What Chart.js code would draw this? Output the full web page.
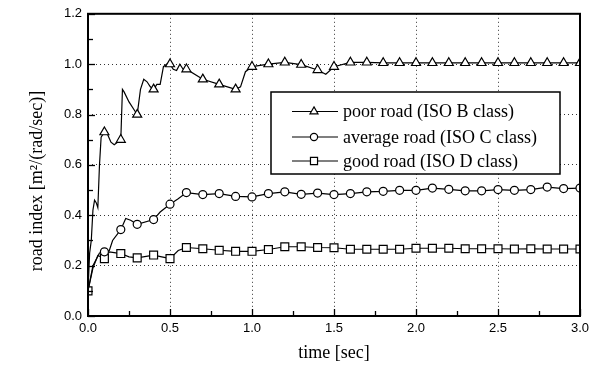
<!DOCTYPE html>
<html><head><meta charset="utf-8">
<script src="https://cdn.jsdelivr.net/npm/chart.js@4/dist/chart.umd.min.js"></script>
<style>html,body{margin:0;padding:0;background:#fff}#wrap{width:595px;height:365px}</style>
</head><body><div id="wrap"><canvas id="c" width="595" height="365"></canvas></div>
<script>
const seriesNames = ['poor road (ISO B class)', 'average road (ISO C class)', 'good road (ISO D class)'];
const xTickLabels = ['0.0','0.5','1.0','1.5','2.0','2.5','3.0'];
const yTickLabels = ['0.0','0.2','0.4','0.6','0.8','1.0','1.2'];
const xTitle = 'time [sec]';
const yTitle = 'road index [m\u00B2/(rad/sec)]';

const poorT = [0,0.01,0.02,0.03,0.04,0.05,0.06,0.07,0.08,0.09,0.1,0.12,0.14,0.16,0.18,0.2,0.21,0.22,0.25,0.28,0.3,0.32,0.34,0.36,0.38,0.4,0.42,0.44,0.46,0.48,0.5,0.52,0.54,0.56,0.58,0.6,0.7,0.8,0.9,0.93,0.96,1.0,1.1,1.2,1.3,1.4,1.45,1.5,1.6,1.7,1.8,1.9,2.0,2.1,2.2,2.3,2.4,2.5,2.6,2.7,2.8,2.9,3.0];
const poorV = [0.10,0.25,0.30,0.42,0.46,0.45,0.43,0.60,0.71,0.72,0.73,0.72,0.69,0.68,0.69,0.70,0.90,0.89,0.85,0.82,0.80,0.90,0.94,0.93,0.91,0.90,0.92,0.92,0.99,1.00,1.00,0.98,0.975,1.00,0.98,0.98,0.94,0.92,0.90,0.91,0.97,0.99,1.00,1.007,0.998,0.977,0.96,0.99,1.007,1.007,1.005,1.005,1.005,1.005,1.005,1.005,1.005,1.005,1.005,1.005,1.005,1.005,1.005];

const avgT = [0,0.03,0.07,0.1,0.13,0.15,0.2,0.23,0.26,0.3,0.4,0.44,0.5,0.55,0.6,0.7,0.8,0.9,1.0,1.1,1.2,1.3,1.4,1.5,1.6,1.7,1.8,1.9,2.0,2.1,2.2,2.3,2.4,2.5,2.6,2.7,2.8,2.9,3.0];
const avgV = [0.10,0.20,0.25,0.255,0.26,0.30,0.343,0.387,0.38,0.364,0.383,0.413,0.444,0.466,0.49,0.482,0.486,0.475,0.473,0.486,0.493,0.483,0.488,0.482,0.486,0.493,0.495,0.499,0.499,0.508,0.503,0.497,0.497,0.502,0.499,0.502,0.512,0.506,0.508];

const goodT = [0,0.03,0.06,0.1,0.13,0.2,0.25,0.3,0.4,0.45,0.5,0.55,0.6,0.7,0.8,0.9,1.0,1.1,1.2,1.3,1.4,1.5,1.6,1.7,1.8,1.9,2.0,2.1,2.2,2.3,2.4,2.5,2.6,2.7,2.8,2.9,3.0];
const goodV = [0.10,0.19,0.24,0.228,0.255,0.248,0.235,0.231,0.242,0.235,0.228,0.26,0.272,0.267,0.261,0.257,0.257,0.264,0.275,0.275,0.272,0.271,0.265,0.265,0.265,0.265,0.269,0.269,0.269,0.267,0.267,0.267,0.266,0.267,0.266,0.266,0.266];

const shapes = ['triangle','circle','rect'];
const radii = [5.2, 4, 5.6];
const legendRadii = [4.6, 3.6, 5];
const startMarker = [false, false, true];

function pts(T, V){ return T.map((t,i)=>({x:t,y:V[i]})); }
function isMarker(x, withStart){
  const k = x*10; const r = Math.round(k);
  if (Math.abs(k-r) > 1e-6) return false;
  if (r === 0 && !withStart) return false;
  return true;
}
const allData = [pts(poorT,poorV), pts(avgT,avgV), pts(goodT,goodV)];

const datasets = allData.map((d,i)=>({
  label: seriesNames[i],
  data: d,
  borderColor: '#000',
  borderWidth: 1.2,
  backgroundColor: '#fff',
  pointStyle: shapes[i],
  pointBorderColor: '#000',
  pointBackgroundColor: '#fff',
  pointBorderWidth: 1.2,
  pointRadius: ctx => (ctx.raw && isMarker(ctx.raw.x, startMarker[i])) ? radii[i] : 0,
  pointHoverRadius: 0,
  tension: 0,
  fill: false
}));

const SANS = '"Liberation Sans", Arial, sans-serif';
const SERIF = '"Liberation Serif", "Times New Roman", serif';

const overlay = {
  id: 'overlay',
  afterDraw(chart){
    const ctx = chart.ctx;
    const a = chart.chartArea;
    const xs = chart.scales.x, ys = chart.scales.y;
    ctx.save();
    ctx.strokeStyle = '#000';
    ctx.lineWidth = 1.3;
    for (let i=0;i<=12;i++){
      const v = i*0.25; const px = Math.round(xs.getPixelForValue(v))+0.5;
      const len = (i%2===0) ? 7 : 5;
      ctx.beginPath(); ctx.moveTo(px, a.bottom); ctx.lineTo(px, a.bottom-len); ctx.stroke();
    }
    for (let i=0;i<=12;i++){
      const v = i*0.1; const py = Math.round(ys.getPixelForValue(v))+0.5;
      const len = (i%2===0) ? 7 : 5;
      ctx.beginPath(); ctx.moveTo(a.left, py); ctx.lineTo(a.left+len, py); ctx.stroke();
    }
    ctx.lineWidth = 2;
    ctx.strokeRect(a.left, a.top, a.right-a.left, a.bottom-a.top);
    // legend box
    const bx = 271, by = 92, bw = 289, bh = 82;
    ctx.fillStyle = '#fff';
    ctx.fillRect(bx, by, bw, bh);
    ctx.lineWidth = 1.5;
    ctx.strokeRect(bx, by, bw, bh);
    const rows = [111.5, 137, 161];
    ctx.textBaseline = 'middle';
    ctx.textAlign = 'left';
    rows.forEach((ry,i)=>{
      ctx.strokeStyle = '#000'; ctx.lineWidth = 1.2;
      ctx.beginPath(); ctx.moveTo(292, ry); ctx.lineTo(338, ry); ctx.stroke();
      ctx.fillStyle = '#fff';
      Chart.helpers.drawPoint(ctx, {pointStyle: shapes[i], radius: legendRadii[i], rotation: 0, borderWidth: 1.2}, 314, ry);
      ctx.fillStyle = '#000';
      ctx.font = '18px ' + SERIF;
      ctx.fillText(seriesNames[i], 343, ry+1);
    });
    // axis titles
    ctx.fillStyle = '#000';
    ctx.font = '18px ' + SERIF;
    ctx.textAlign = 'center';
    ctx.textBaseline = 'middle';
    ctx.fillText(xTitle, (a.left+a.right)/2, 353);
    ctx.save();
    ctx.translate(37, 181);
    ctx.rotate(-Math.PI/2);
    ctx.fillText(yTitle, 0, 0);
    ctx.restore();
    ctx.restore();
  }
};

new Chart(document.getElementById('c'), {
  type: 'line',
  data: { datasets },
  options: {
    responsive: false,
    animation: false,
    devicePixelRatio: 1,
    layout: { padding: { top: 13, right: 15, left: 0, bottom: 0 } },
    plugins: { legend: { display: false }, tooltip: { enabled: false } },
    scales: {
      x: {
        type: 'linear', min: 0, max: 3,
        afterFit: s => { s.height = 49; },
        ticks: { stepSize: 0.5, padding: 5, color: '#000', font: { family: SANS, size: 13 },
          callback: (v) => { const i = Math.round(v/0.5); return Math.abs(v - i*0.5) < 1e-6 ? xTickLabels[i] : ''; } },
        grid: { color: '#333', lineWidth: 1, drawTicks: false },
        border: { display: false, dash: [1, 3] }
      },
      y: {
        min: 0, max: 1.2,
        afterFit: s => { s.width = 88; },
        ticks: { stepSize: 0.2, padding: 6, color: '#000', font: { family: SANS, size: 13 },
          callback: (v) => { const i = Math.round(v/0.2); return Math.abs(v - i*0.2) < 1e-6 ? yTickLabels[i] : ''; } },
        grid: { color: '#333', lineWidth: 1, drawTicks: false },
        border: { display: false, dash: [1, 3] }
      }
    }
  },
  plugins: [overlay]
});
</script>
</body></html>
